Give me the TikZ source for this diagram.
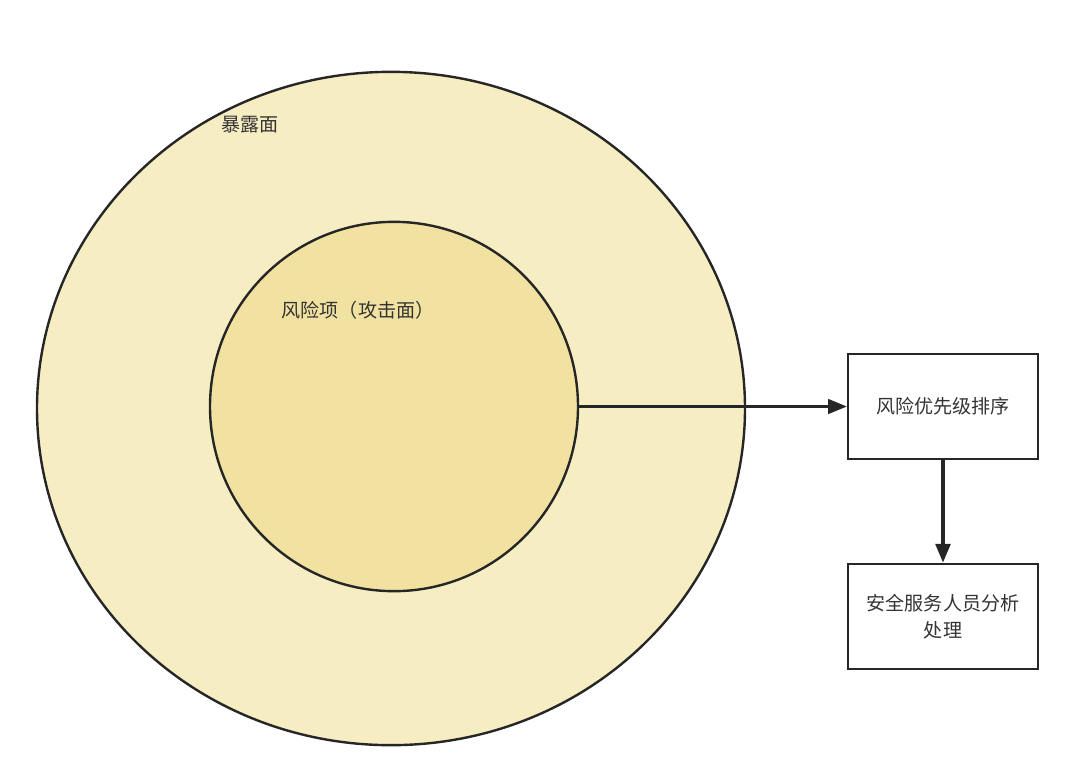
\documentclass[tikz,border=0pt]{standalone}
\usepackage{fontspec}
\newfontfamily\cjk{Noto Sans CJK SC}
\usepackage{xcolor}
\usepackage{tikz}
\usetikzlibrary{arrows.meta, positioning, shapes.geometric}
\definecolor{outerfill}{HTML}{F6EDC2}
\definecolor{innerfill}{HTML}{F1E2A2}
\definecolor{edge}{HTML}{262626}
\definecolor{txt}{HTML}{333333}

\begin{document}
\begin{tikzpicture}[x=0.75pt,y=-0.75pt,
  every node/.style={font=\cjk\fontsize{14.3}{20}\selectfont, text=txt},
  area/.style={draw=edge, line width=1.8pt, ellipse, inner sep=0pt},
  stepbox/.style={draw=edge, line width=1.8pt, fill=white, minimum width=142.5pt, minimum height=79pt, align=center, inner sep=0pt},
  flow/.style={draw=edge, -{Triangle[length=14pt,width=11pt]}}]
\useasboundingbox (0,0) rectangle (1075,783);
\node(exposed) [area, fill=outerfill, minimum width=531pt, minimum height=505pt] at (391,408.5) {};
\node(attack) [area, fill=innerfill, minimum width=276pt, minimum height=277pt] at (394,406.5) {};
\node(exposedlabel) at (250,125) {暴露面};
\node(attacklabel) at (358,310) {风险项（攻击面）};
\node(rank) [stepbox] at (943,406.5) {风险优先级排序};
\node(handle) [stepbox] at (943,616.5) {安全服务人员分析\\处理};
\draw[flow, line width=1.7pt] (attack.east) -- (rank.west);
\draw[flow, line width=2.5pt] (rank.south) -- (handle.north);
\end{tikzpicture}
\end{document}
